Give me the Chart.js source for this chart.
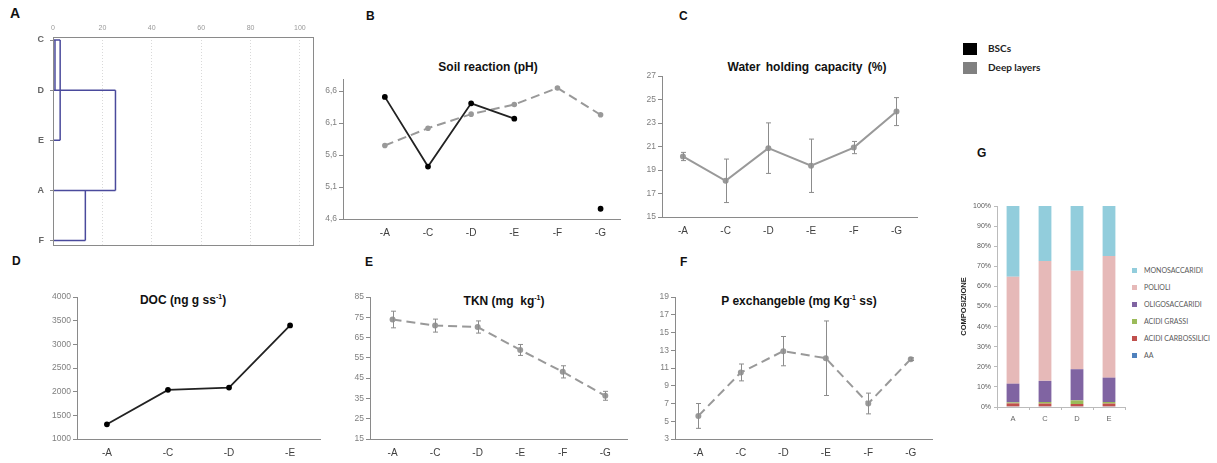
<!DOCTYPE html>
<html>
<head>
<meta charset="utf-8">
<script src="https://cdn.jsdelivr.net/npm/chart.js@4.4.0/dist/chart.umd.min.js"></script>
<style>
body { margin:0; background:#fff; width:1217px; height:463px; position:relative; overflow:hidden; font-family:Arial, "Liberation Sans", sans-serif; }
canvas { position:absolute; }
.lbl { position:absolute; font-weight:bold; font-size:12px; line-height:1; color:#111; }
.ttl { position:absolute; font-weight:bold; font-size:12px; line-height:1; color:#111; white-space:nowrap; transform:translateX(-50%); }
.ttl sup { font-size:7px; vertical-align:5px; line-height:0; }
.leg { position:absolute; font-family:Lato, "Open Sans", sans-serif; white-space:nowrap; }
.sw { position:absolute; }
</style>
</head>
<body>

<div class="lbl" style="left:10px;top:6px;font-size:14px">A</div>
<div class="lbl" style="left:366px;top:10px">B</div>
<div class="lbl" style="left:679px;top:10px">C</div>
<div class="lbl" style="left:12px;top:255px">D</div>
<div class="lbl" style="left:365px;top:256px">E</div>
<div class="lbl" style="left:680px;top:256px">F</div>
<div class="lbl" style="left:977px;top:147px">G</div>

<div class="ttl" style="left:488px;top:61px">Soil reaction (pH)</div>
<div class="ttl" style="left:807px;top:61px;word-spacing:2px">Water holding capacity (%)</div>
<div class="ttl" style="left:183px;top:294px">DOC (ng g ss<sup>-1</sup>)</div>
<div class="ttl" style="left:504px;top:295px">TKN (mg&nbsp; kg<sup>-1</sup>)</div>
<div class="ttl" style="left:799px;top:295px">P exchangeble (mg Kg<sup>-1</sup> ss)</div>

<div class="sw" style="left:963px;top:43px;width:14px;height:12px;background:#000"></div>
<div class="sw" style="left:963px;top:62px;width:14px;height:12px;background:#808080"></div>
<div class="leg" style="left:988px;top:42px;font-size:10px;font-weight:bold;color:#222">BSCs</div>
<div class="leg" style="left:988px;top:61px;font-size:10px;font-weight:bold;color:#222">Deep layers</div>

<div id="gLegend"></div>

<canvas id="chartA" width="299" height="239" style="left:20px;top:17px"></canvas>
<canvas id="chartB" width="311" height="172" style="left:315px;top:71px"></canvas>
<canvas id="chartC" width="287" height="173" style="left:636px;top:68px"></canvas>
<canvas id="chartD" width="285" height="174" style="left:41px;top:289px"></canvas>
<canvas id="chartE" width="289" height="174" style="left:344px;top:289px"></canvas>
<canvas id="chartF" width="289" height="174" style="left:649px;top:289px"></canvas>
<canvas id="chartG" width="172" height="229" style="left:957px;top:198px"></canvas>

<script>
// A - cluster dendrogram
const dendroLabels = ['C', 'D', 'E', 'A', 'F'];
const dendroJoinA = ['C', 'C', 'A', 'D'];
const dendroJoinB = ['D', 'E', 'F', 'A'];
const dendroHeight = [0.8, 2.9, 13.1, 25.3];
const dendroTicks = [0, 20, 40, 60, 80, 100];

// B - soil reaction (pH)
const siteCats = ['-A', '-C', '-D', '-E', '-F', '-G'];
const phBSCs = [6.51, 5.42, 6.41, 6.17, null, 4.76];
const phDeep = [5.75, 6.02, 6.24, 6.39, 6.65, 6.23];
const phTicks = [4.6, 5.1, 5.6, 6.1, 6.6];

// C - water holding capacity
const whcMean = [20.15, 18.08, 20.86, 19.36, 20.91, 23.97];
const whcErr = [0.35, 1.85, 2.15, 2.27, 0.52, 1.19];
const whcTicks = [15, 17, 19, 21, 23, 25, 27];

// D - DOC
const docCats = ['-A', '-C', '-D', '-E'];
const docValues = [1311, 2038, 2087, 3400];
const docTicks = [1000, 1500, 2000, 2500, 3000, 3500, 4000];

// E - TKN
const tknMean = [73.9, 70.9, 70.2, 58.9, 48.1, 36.3];
const tknErr = [4.1, 3.2, 3.0, 2.7, 3.0, 2.2];
const tknTicks = [15, 25, 35, 45, 55, 65, 75, 85];

// F - P exchangeable
const pMean = [5.6, 10.5, 12.9, 12.1, 7.0, 12.0];
const pErr = [1.4, 0.95, 1.65, 4.2, 1.17, 0.15];
const pTicks = [3, 5, 7, 9, 11, 13, 15, 17, 19];

// G - composition
const compCats = ['A', 'C', 'D', 'E'];
const compAA = [0.3, 0.3, 0.3, 0.3];
const compCarb = [1.5, 1.4, 1.2, 1.4];
const compGrassi = [0.5, 0.8, 1.8, 0.8];
const compOligo = [9.3, 10.5, 15.5, 12.1];
const compPolioli = [53.2, 59.6, 49.0, 60.5];
const compMono = [35.2, 27.4, 32.2, 24.9];

const AXIS = '#8a8a8a';
const GRAY = '#999999';
Chart.defaults.font.family = 'Arial, "Liberation Sans", sans-serif';
Chart.defaults.animation = false;
Chart.defaults.plugins.legend.display = false;
Chart.defaults.plugins.tooltip.enabled = false;

const toPts = (vals) => vals.map((v, i) => ({ x: i, y: v }));

const errorBars = {
  id: 'errorBars',
  afterDatasetsDraw(chart, args, opts) {
    if (!opts.errors) return;
    const { ctx, scales: { x, y } } = chart;
    ctx.save();
    ctx.strokeStyle = opts.color || '#8c8c8c';
    ctx.lineWidth = 1;
    opts.errors.forEach((e, i) => {
      const m = opts.means[i];
      const px = Math.round(x.getPixelForValue(i)) + 0.5;
      const top = y.getPixelForValue(m + e), bot = y.getPixelForValue(m - e);
      ctx.beginPath();
      ctx.moveTo(px, top); ctx.lineTo(px, bot);
      ctx.moveTo(px - 2.5, top); ctx.lineTo(px + 2.5, top);
      ctx.moveTo(px - 2.5, bot); ctx.lineTo(px + 2.5, bot);
      ctx.stroke();
    });
    ctx.restore();
  }
};

const frame = {
  id: 'frame',
  afterDraw(chart, args, opts) {
    if (!opts.color) return;
    const a = chart.chartArea, ctx = chart.ctx;
    ctx.save();
    ctx.strokeStyle = opts.color;
    ctx.lineWidth = 1;
    ctx.strokeRect(Math.round(a.left) + 0.5, Math.round(a.top) + 0.5, Math.round(a.width), Math.round(a.height));
    ctx.restore();
  }
};

function lineScales(cats, xMin, xMax, yMin, yMax, yTicks, fmt, yW) {
  return {
    x: {
      type: 'linear', min: xMin, max: xMax,
      afterBuildTicks: s => { s.ticks = cats.map((c, i) => ({ value: i })); },
      afterFit: s => { s.height = 22; },
      grid: { drawOnChartArea: false, drawTicks: false },
      border: { color: AXIS },
      ticks: { callback: v => cats[v], color: '#404040', font: { size: 10 }, padding: 8, maxRotation: 0, autoSkip: false }
    },
    y: {
      type: 'linear', min: yMin, max: yMax,
      afterBuildTicks: s => { s.ticks = yTicks.map(v => ({ value: v })); },
      afterFit: s => { s.width = yW; },
      grid: { drawOnChartArea: false, tickLength: 4, color: AXIS },
      border: { color: AXIS },
      ticks: { callback: fmt, color: '#7f7f7f', font: { size: 8.5 }, padding: 2 }
    }
  };
}

const pad = { top: 8, right: 6, bottom: 2, left: 0 };

// A
const dendroIdx = l => dendroLabels.indexOf(l);
const dendroSets = [];
dendroLabels.forEach(l => {
  let h = 0;
  dendroJoinA.forEach((a, k) => { if (a === l || dendroJoinB[k] === l) h = Math.max(h, dendroHeight[k]); });
  dendroSets.push([{ x: 0, y: dendroIdx(l) }, { x: h, y: dendroIdx(l) }]);
});
dendroHeight.forEach((h, k) => {
  dendroSets.push([{ x: h, y: dendroIdx(dendroJoinA[k]) }, { x: h, y: dendroIdx(dendroJoinB[k]) }]);
});

new Chart(document.getElementById('chartA'), {
  type: 'scatter',
  data: { datasets: dendroSets.map(d => ({ data: d, showLine: true, borderColor: '#4a4a9c', borderWidth: 1.5, pointRadius: 0 })) },
  options: {
    responsive: false,
    layout: { padding: { top: 6, right: 6, bottom: 8, left: 0 } },
    scales: {
      x: {
        type: 'linear', position: 'top', min: 0, max: 105.3,
        afterBuildTicks: s => { s.ticks = dendroTicks.map(v => ({ value: v })); },
        afterFit: s => { s.height = 14; },
        grid: { color: '#d9d9d9', drawTicks: false },
        border: { display: false, dash: [1, 2] },
        ticks: { color: '#999', font: { size: 7 }, padding: 5, maxRotation: 0 }
      },
      y: {
        type: 'linear', reverse: true, min: -0.06, max: 4.08,
        afterBuildTicks: s => { s.ticks = dendroLabels.map((l, i) => ({ value: i })); },
        afterFit: s => { s.width = 33; },
        grid: { drawOnChartArea: false, tickLength: 3, color: AXIS },
        border: { display: false },
        ticks: { callback: v => dendroLabels[v], color: '#666', font: { size: 9, weight: 'bold' }, padding: 6 }
      }
    },
    plugins: { frame: { color: AXIS } }
  },
  plugins: [frame]
});

// B
new Chart(document.getElementById('chartB'), {
  type: 'scatter',
  data: {
    datasets: [
      { data: toPts(phBSCs), showLine: true, spanGaps: false, borderColor: '#222', borderWidth: 1.8, pointRadius: 2, pointBackgroundColor: '#000', pointBorderColor: '#000' },
      { data: toPts(phDeep), showLine: true, borderColor: GRAY, borderWidth: 2, borderDash: [9, 5], pointRadius: 1.8, pointBackgroundColor: GRAY, pointBorderColor: GRAY }
    ]
  },
  options: {
    responsive: false, layout: { padding: pad },
    scales: lineScales(siteCats, -0.97, 5.45, 4.6, 6.79, phTicks, v => v.toFixed(1).replace('.', ','), 28)
  }
});

// C
new Chart(document.getElementById('chartC'), {
  type: 'scatter',
  data: { datasets: [{ data: toPts(whcMean), showLine: true, borderColor: GRAY, borderWidth: 2, pointRadius: 2, pointBackgroundColor: GRAY, pointBorderColor: GRAY }] },
  options: {
    responsive: false, layout: { padding: pad },
    scales: lineScales(siteCats, -0.49, 5.48, 15, 27, whcTicks, v => v, 26),
    plugins: { errorBars: { errors: whcErr, means: whcMean } }
  },
  plugins: [errorBars]
});

// D
new Chart(document.getElementById('chartD'), {
  type: 'scatter',
  data: { datasets: [{ data: toPts(docValues), showLine: true, borderColor: '#222', borderWidth: 1.8, pointRadius: 2, pointBackgroundColor: '#000', pointBorderColor: '#000' }] },
  options: {
    responsive: false, layout: { padding: pad },
    scales: lineScales(docCats, -0.49, 3.49, 1000, 4000, docTicks, v => v, 36)
  }
});

// E
new Chart(document.getElementById('chartE'), {
  type: 'scatter',
  data: { datasets: [{ data: toPts(tknMean), showLine: true, borderColor: GRAY, borderWidth: 2, borderDash: [9, 5], pointRadius: 2, pointBackgroundColor: GRAY, pointBorderColor: GRAY }] },
  options: {
    responsive: false, layout: { padding: pad },
    scales: lineScales(siteCats, -0.53, 5.51, 15, 85, tknTicks, v => v, 26),
    plugins: { errorBars: { errors: tknErr, means: tknMean } }
  },
  plugins: [errorBars]
});

// F
new Chart(document.getElementById('chartF'), {
  type: 'scatter',
  data: { datasets: [{ data: toPts(pMean), showLine: true, borderColor: GRAY, borderWidth: 2, borderDash: [9, 5], pointRadius: 2, pointBackgroundColor: GRAY, pointBorderColor: GRAY }] },
  options: {
    responsive: false, layout: { padding: pad },
    scales: lineScales(siteCats, -0.55, 5.5, 3, 19, pTicks, v => v, 26),
    plugins: { errorBars: { errors: pErr, means: pMean } }
  },
  plugins: [errorBars]
});

// G
const compSeries = [
  { label: 'AA', data: compAA, color: '#4f81bd' },
  { label: 'ACIDI CARBOSSILICI', data: compCarb, color: '#c0504d' },
  { label: 'ACIDI GRASSI', data: compGrassi, color: '#9bbb59' },
  { label: 'OLIGOSACCARIDI', data: compOligo, color: '#8064a2' },
  { label: 'POLIOLI', data: compPolioli, color: '#e6b9b8' },
  { label: 'MONOSACCARIDI', data: compMono, color: '#92cddc' }
];
new Chart(document.getElementById('chartG'), {
  type: 'bar',
  data: {
    labels: compCats,
    datasets: compSeries.map(s => ({ label: s.label, data: s.data, backgroundColor: s.color, barPercentage: 0.4, categoryPercentage: 1 }))
  },
  options: {
    responsive: false,
    layout: { padding: { top: 8, right: 4, bottom: 2, left: 0 } },
    scales: {
      x: {
        stacked: true,
        afterFit: s => { s.height = 18; },
        grid: { drawOnChartArea: false, offset: true, tickLength: 3, color: '#bbb' },
        border: { color: '#bbb' },
        ticks: { color: '#666', font: { size: 7.5 }, padding: 4 }
      },
      y: {
        stacked: true, min: 0, max: 100,
        afterFit: s => { s.width = 40; },
        grid: { drawOnChartArea: false, tickLength: 3, color: '#bbb' },
        border: { color: '#bbb' },
        ticks: { stepSize: 10, callback: v => v + '%', color: '#595959', font: { size: 7 }, padding: 3 },
        title: { display: true, text: 'COMPOSIZIONE', color: '#222', font: { size: 7.5, weight: 'bold' }, padding: { top: 2, bottom: 2 } }
      }
    }
  }
});

// G legend (top entry first)
const gLegend = document.getElementById('gLegend');
compSeries.slice().reverse().forEach((s, i) => {
  const y = 270 + i * 17;
  gLegend.insertAdjacentHTML('beforeend',
    `<div class="sw" style="left:1132px;top:${y - 2}px;width:5px;height:5px;background:${s.color}"></div>` +
    `<div class="leg" style="left:1144px;top:${y - 5}px;font-size:7px;line-height:10px;color:#595959">${s.label}</div>`);
});
</script>
</body>
</html>
